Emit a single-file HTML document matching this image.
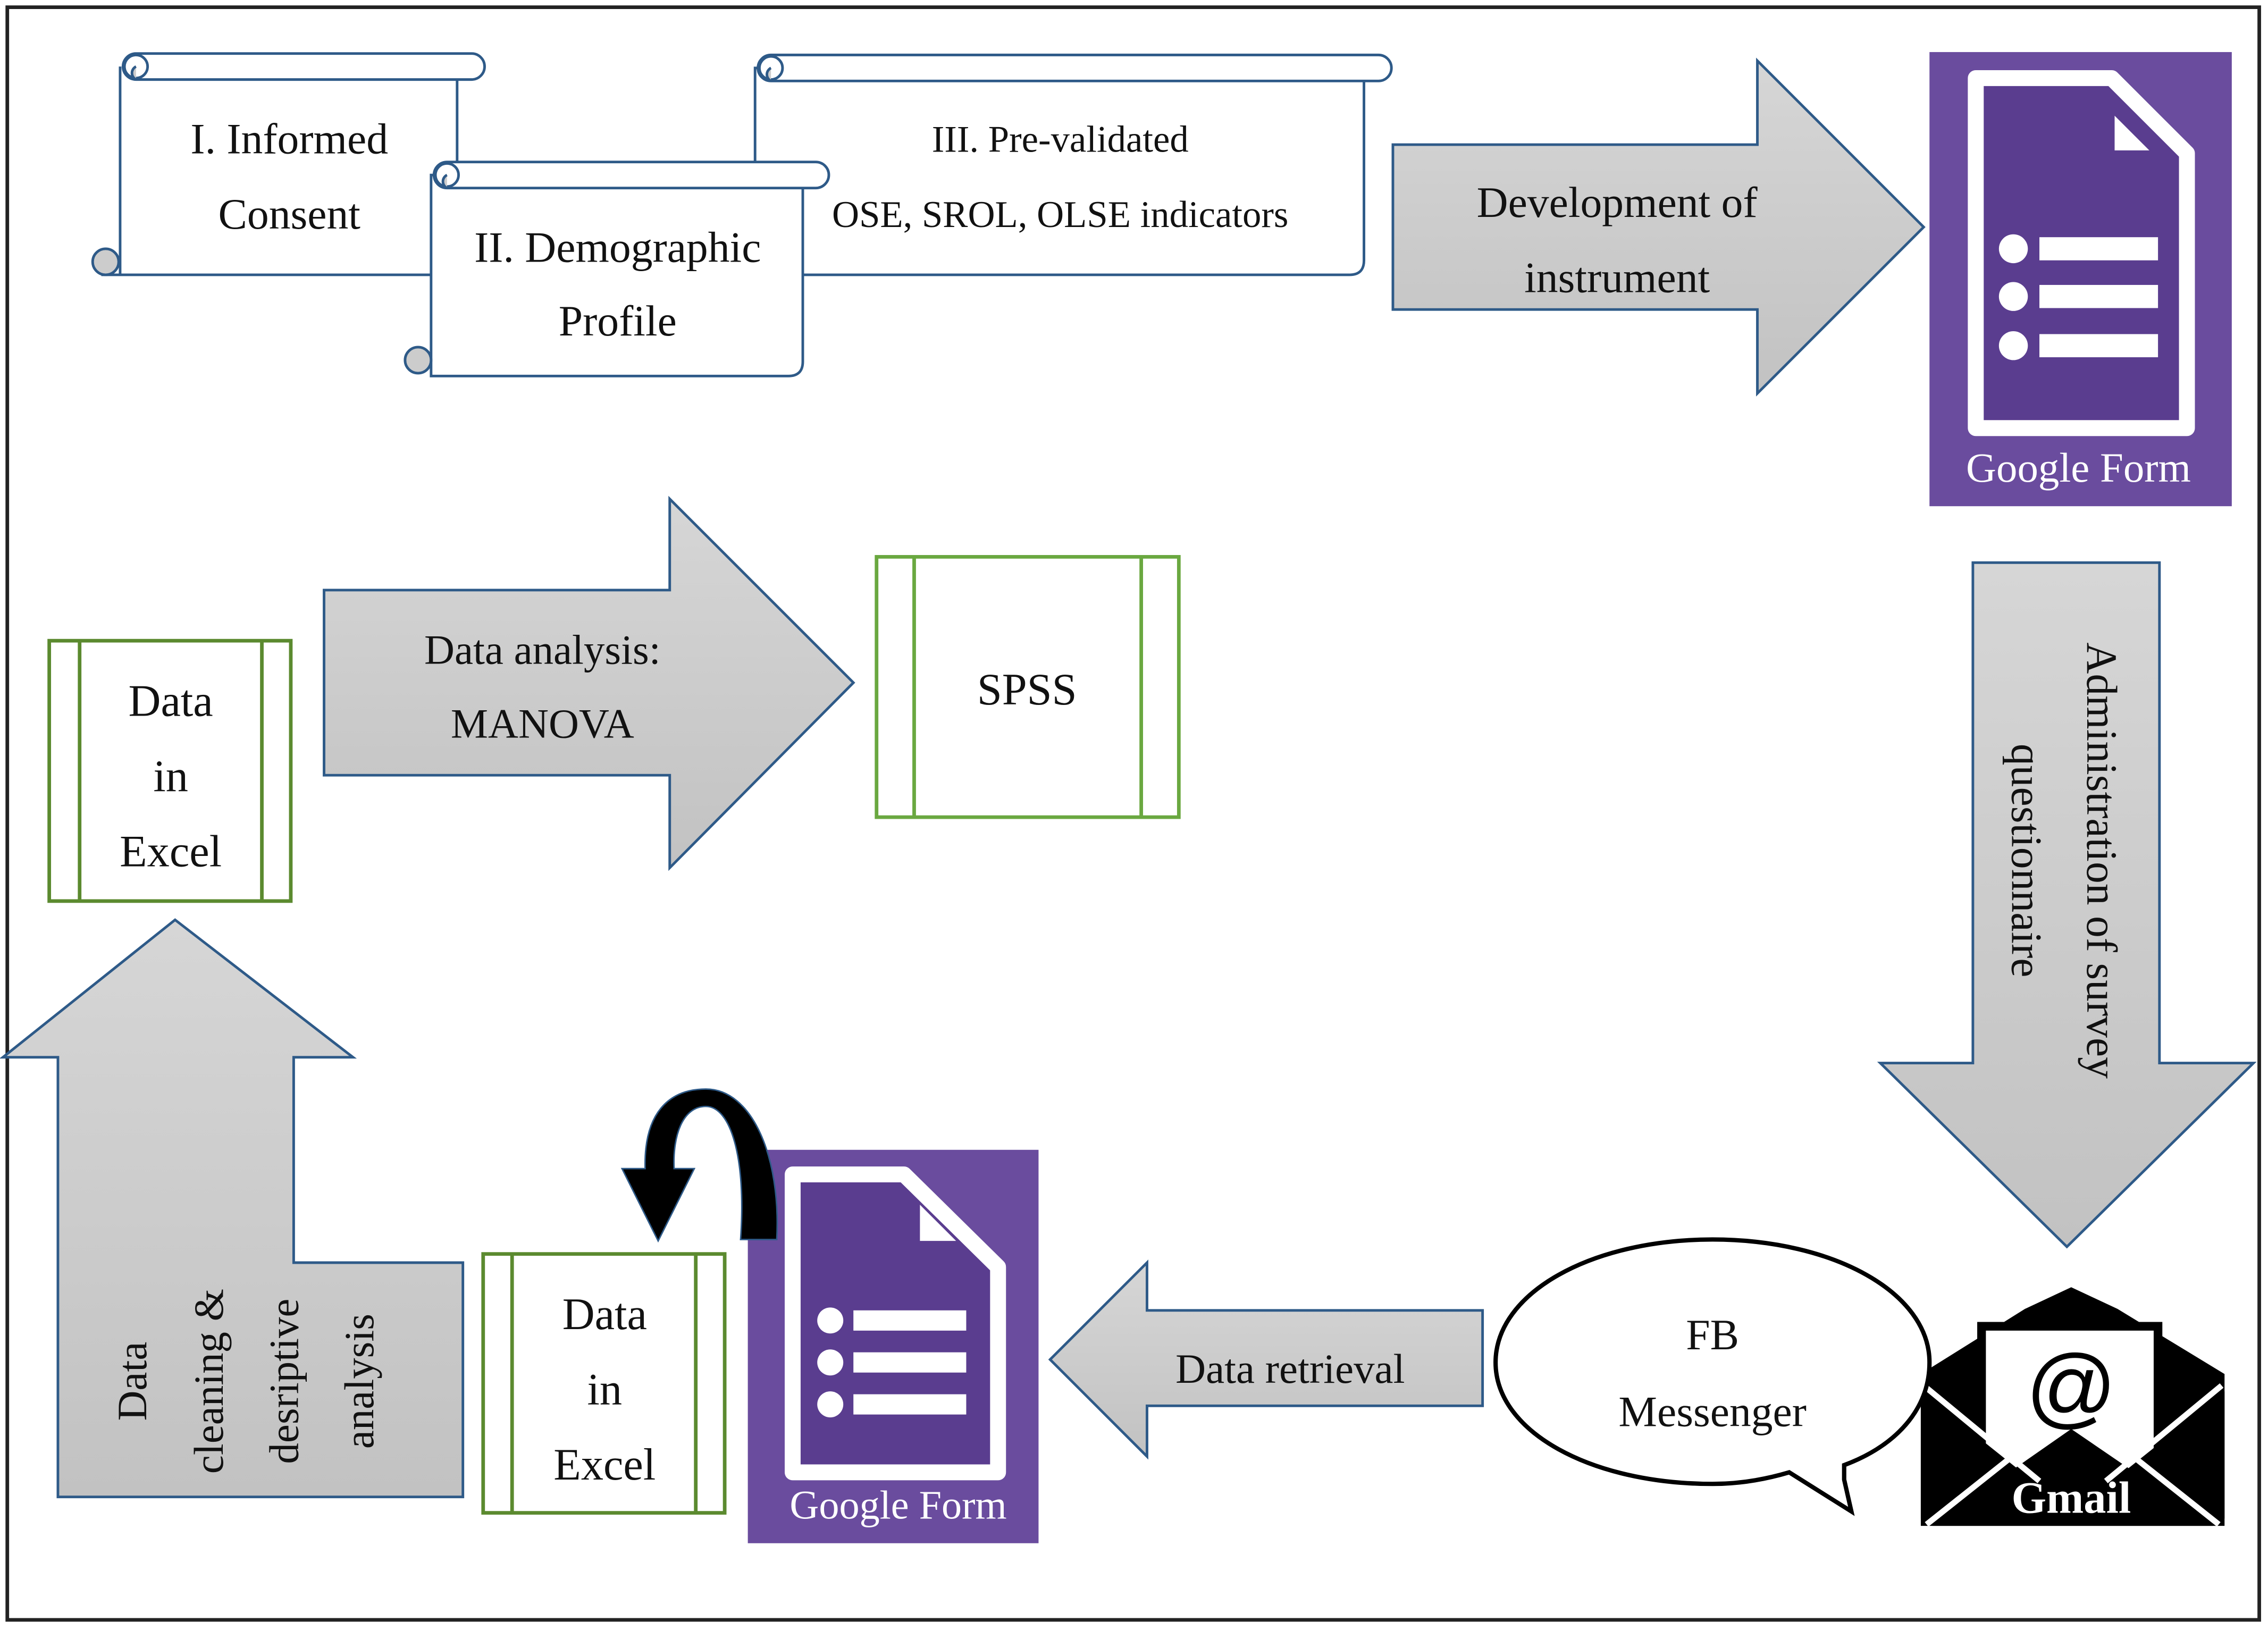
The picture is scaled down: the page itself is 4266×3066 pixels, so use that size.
<!DOCTYPE html>
<html><head><meta charset="utf-8"><style>html,body{margin:0;padding:0;background:#fff}svg{display:block}text{font-family:"Liberation Serif",serif;fill:#111}</style></head>
<body>
<svg width="4266" height="3066" viewBox="0 0 1568 1127" xmlns="http://www.w3.org/2000/svg">
<defs>
<linearGradient id="g" x1="0" y1="0" x2="0" y2="1"><stop offset="0" stop-color="#d6d6d6"/><stop offset="1" stop-color="#c2c2c2"/></linearGradient>
</defs>
<rect x="5" y="5" width="1557" height="1115" fill="#fff" stroke="#222" stroke-width="2.5"/>

<!-- Scroll I -->
<g stroke="#2e5a88" stroke-width="1.8" fill="#fff">
<path d="M83 190 L83 46 M316 55 L316 190 L70 190"/>
<rect x="85" y="37" width="250" height="18" rx="9"/>
<circle cx="94" cy="46" r="8"/>
<path d="M94 46 a5 5 0 0 0 0 9" fill="#ccc"/>
<circle cx="73" cy="181" r="9" fill="#ccc"/>
</g>
<!-- Scroll III -->
<g stroke="#2e5a88" stroke-width="1.8" fill="#fff">
<path d="M522 190 L522 47 L943 47 L943 180 Q943 190 933 190 L555 190 Z"/>
<rect x="524" y="38" width="438" height="18" rx="9"/>
<circle cx="533" cy="47" r="8"/>
<path d="M533 47 a5 5 0 0 0 0 9" fill="#ccc"/>
</g>
<!-- Scroll II -->
<g stroke="#2e5a88" stroke-width="1.8" fill="#fff">
<path d="M298 260 L298 121 L555 121 L555 250 Q555 260 545 260 Z"/>
<rect x="300" y="112" width="273" height="18" rx="9"/>
<circle cx="309" cy="121" r="8"/>
<path d="M309 121 a5 5 0 0 0 0 9" fill="#ccc"/>
<circle cx="289" cy="249" r="9" fill="#ccc"/>
</g>
<g font-size="30" text-anchor="middle">
<text x="200" y="106">I. Informed</text><text x="200" y="158">Consent</text>
<text x="427" y="181">II. Demographic</text><text x="427" y="232">Profile</text>
</g>
<g font-size="26" text-anchor="middle">
<text x="733" y="105">III. Pre-validated</text><text x="733" y="157">OSE, SROL, OLSE indicators</text>
</g>

<!-- Development arrow -->
<path d="M963 100 L1215 100 L1215 42 L1330 157 L1215 272 L1215 214 L963 214 Z" fill="url(#g)" stroke="#2e5a88" stroke-width="1.8"/>
<g font-size="30" text-anchor="middle"><text x="1118" y="150">Development of</text><text x="1118" y="202">instrument</text></g>

<!-- Google Form top -->
<rect x="1334" y="36" width="209" height="314" fill="#6a4c9e"/>
<path d="M1366 54 L1460 54 L1512 106 L1512 296 L1366 296 Z" fill="#5a3d8f" stroke="#fff" stroke-width="11" stroke-linejoin="round"/>
<path d="M1462 80 L1462 104 L1486 104 Z" fill="#fff"/>
<g fill="#fff"><circle cx="1392" cy="172" r="10"/><circle cx="1392" cy="205" r="10"/><circle cx="1392" cy="239" r="10"/>
<rect x="1410" y="164" width="82" height="16"/><rect x="1410" y="197" width="82" height="16"/><rect x="1410" y="231" width="82" height="16"/></g>
<text x="1437" y="333" font-size="29" text-anchor="middle" style="fill:#fff">Google Form</text>

<!-- Down arrow -->
<path d="M1364 389 L1493 389 L1493 735 L1558 735 L1429 862 L1300 735 L1364 735 Z" fill="url(#g)" stroke="#2e5a88" stroke-width="1.8"/>
<g font-size="30" text-anchor="middle">
<text transform="translate(1443 595) rotate(90)">Administration of survey</text>
<text transform="translate(1391 595) rotate(90)">questionnaire</text>
</g>

<!-- Gmail -->
<g>
<path d="M1328 950 L1400 905 L1432 890 L1464 905 L1538 950 L1538 1055 L1328 1055 Z" fill="#000"/>
<rect x="1370" y="917" width="122" height="110" fill="#fff" stroke="#000" stroke-width="6"/>
<path d="M1328 962 L1408 1026 L1328 1050 Z M1538 962 L1458 1026 L1538 1050 Z" fill="#000"/>
<path d="M1336 1055 L1432 988 L1530 1055 Z" fill="#000"/>
<path d="M1330 958 L1410 1024 M1536 958 L1456 1024 M1332 1054 L1400 1000 M1534 1054 L1466 1000" stroke="#fff" stroke-width="4"/>
<text x="1432" y="980" font-size="62" text-anchor="middle" style="fill:#000;font-family:'Liberation Sans',sans-serif">@</text>
<text x="1432" y="1046" font-size="31" text-anchor="middle" font-weight="bold" style="fill:#fff">Gmail</text>
</g>

<!-- Speech bubble -->
<path d="M1275 1023 L1280 1045 L1237 1018 Q1210 1026 1184 1026 C1100 1026 1034 990 1034 942 C1034 894 1100 857 1184 857 C1268 857 1334 894 1334 942 C1334 975 1310 1000 1275 1013 Z" fill="#fff" stroke="#000" stroke-width="3"/>
<g font-size="30" text-anchor="middle"><text x="1184" y="933">FB</text><text x="1184" y="986">Messenger</text></g>

<!-- Data retrieval arrow -->
<path d="M1025 906 L793 906 L793 873 L726 940 L793 1007 L793 972 L1025 972 Z" fill="url(#g)" stroke="#2e5a88" stroke-width="1.8"/>
<text x="892" y="956" font-size="29" text-anchor="middle">Data retrieval</text>

<!-- Google Form bottom -->
<rect x="517" y="795" width="201" height="272" fill="#6a4c9e"/>
<path d="M548 812 L625 812 L690 876 L690 1018 L548 1018 Z" fill="#5a3d8f" stroke="#fff" stroke-width="11" stroke-linejoin="round"/>
<path d="M636 833 L636 858 L661 858 Z" fill="#fff"/>
<g fill="#fff"><circle cx="574" cy="913" r="9"/><circle cx="574" cy="942" r="9"/><circle cx="574" cy="971" r="9"/>
<rect x="590" y="906" width="78" height="14"/><rect x="590" y="935" width="78" height="14"/><rect x="590" y="964" width="78" height="14"/></g>
<text x="621" y="1050" font-size="28" text-anchor="middle" style="fill:#fff">Google Form</text>

<!-- Curved black arrow -->
<path d="M512 857 C516 800 505 765 488 765 C472 765 465 785 466 808 L480 808 L455 858 L430 808 L446 808 C445 770 462 753 488 753 C520 753 540 800 537 857 Z" fill="#000" stroke="#2e5a88" stroke-width="1"/>

<!-- Data in Excel bottom -->
<g fill="#fff" stroke="#5b8a2f" stroke-width="2.5">
<rect x="334" y="867" width="167" height="179"/><path d="M354 867 V1046 M481 867 V1046"/>
</g>
<g font-size="31" text-anchor="middle"><text x="418" y="919">Data</text><text x="418" y="971">in</text><text x="418" y="1023">Excel</text></g>

<!-- Big L up arrow -->
<path d="M40 1035 L320 1035 L320 873 L203 873 L203 731 L244 731 L121 636 L2 731 L40 731 Z" fill="url(#g)" stroke="#2e5a88" stroke-width="1.8"/>
<g font-size="29" text-anchor="middle">
<text transform="translate(101 955) rotate(-90)">Data</text>
<text transform="translate(154 955) rotate(-90)">cleaning &amp;</text>
<text transform="translate(206 955) rotate(-90)">desriptive</text>
<text transform="translate(258 955) rotate(-90)">analysis</text>
</g>

<!-- Data in Excel top -->
<g fill="#fff" stroke="#5b8a2f" stroke-width="2.5">
<rect x="34" y="443" width="167" height="180"/><path d="M55 443 V623 M181 443 V623"/>
</g>
<g font-size="31" text-anchor="middle"><text x="118" y="495">Data</text><text x="118" y="547">in</text><text x="118" y="599">Excel</text></g>

<!-- Data analysis arrow -->
<path d="M224 408 L463 408 L463 345 L590 472 L463 600 L463 536 L224 536 Z" fill="url(#g)" stroke="#2e5a88" stroke-width="1.8"/>
<g font-size="29" text-anchor="middle"><text x="375" y="459">Data analysis:</text><text x="375" y="510">MANOVA</text></g>

<!-- SPSS -->
<g fill="#fff" stroke="#6aa840" stroke-width="2.5">
<rect x="606" y="385" width="209" height="180"/><path d="M632 385 V565 M789 385 V565"/>
</g>
<text x="710" y="487" font-size="31" text-anchor="middle">SPSS</text>
</svg>
</body></html>
